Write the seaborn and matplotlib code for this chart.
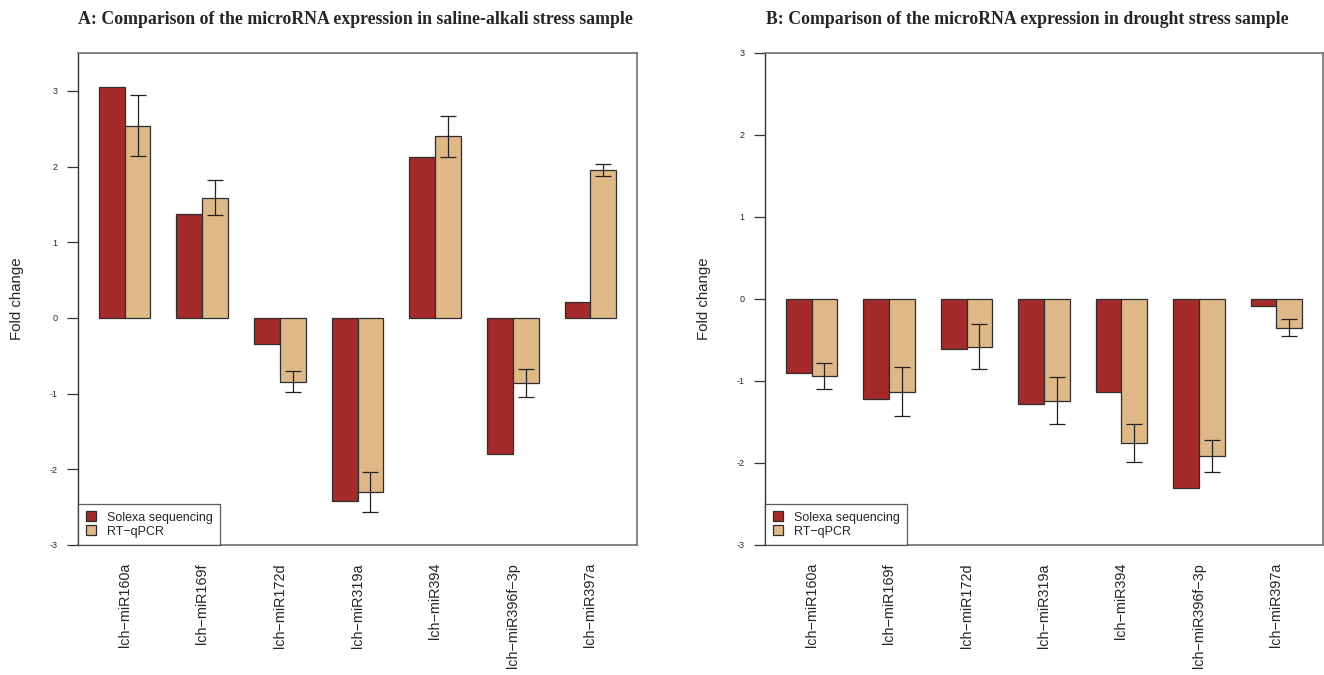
import matplotlib
matplotlib.use("Agg")
import matplotlib.pyplot as plt
import seaborn as sns
import pandas as pd
import numpy as np
from matplotlib.patches import Patch

mirnas = ["lch\u2212miR160a", "lch\u2212miR169f", "lch\u2212miR172d", "lch\u2212miR319a",
          "lch\u2212miR394", "lch\u2212miR396f\u22123p", "lch\u2212miR397a"]
methods = ["Solexa sequencing", "RT\u2212qPCR"]

salt_solexa = [3.05, 1.37, -0.35, -2.42, 2.12, -1.80, 0.21]
salt_qpcr = [2.54, 1.59, -0.84, -2.30, 2.40, -0.86, 1.95]
salt_err = [0.40, 0.23, 0.145, 0.265, 0.27, 0.185, 0.08]

drought_solexa = [-0.90, -1.22, -0.61, -1.28, -1.14, -2.31, -0.08]
drought_qpcr = [-0.94, -1.13, -0.58, -1.24, -1.76, -1.92, -0.35]
drought_err = [0.16, 0.30, 0.275, 0.285, 0.23, 0.195, 0.105]

titles = ["A: Comparison of the microRNA expression in saline-alkali stress sample",
          "B: Comparison of the microRNA expression in drought stress sample"]
yticks = [-3, -2, -1, 0, 1, 2, 3]

colors = ["#A52A2A", "#DEB887"]

sns.set_style("white")
plt.rcParams['font.family'] = ['Liberation Sans', 'DejaVu Sans']

fig = plt.figure(figsize=(13.24, 6.75), dpi=100)
W, H = 1324, 675
axA = fig.add_axes([78 / W, 130 / H, (637 - 78) / W, (545 - 53) / H])
axB = fig.add_axes([765 / W, 130 / H, (1323 - 765) / W, (545 - 53) / H])


def draw(ax, solexa, qpcr, err, title, ylim, title_x):
    df = pd.DataFrame({
        "miRNA": mirnas * 2,
        "method": [methods[0]] * len(mirnas) + [methods[1]] * len(mirnas),
        "value": list(solexa) + list(qpcr),
    })
    sns.barplot(data=df, x="miRNA", y="value", hue="method", order=mirnas,
                hue_order=methods, palette=colors, width=2 / 3, gap=0,
                edgecolor="#2e2e2e", linewidth=0.9, errorbar=None,
                legend=False, ax=ax, saturation=1)
    rt_bars = ax.containers[1]
    xs = [b.get_x() + b.get_width() / 2 for b in rt_bars]
    ax.errorbar(xs, qpcr, yerr=err, fmt="none", ecolor="#222222",
                elinewidth=0.9, capsize=6, capthick=0.9, zorder=5)
    ax.set_xlim(-1 / 3 - 0.2667, 6 + 1 / 3 + 0.2667)
    ax.set_ylim(*ylim)
    ax.set_yticks(yticks)
    ax.set_yticklabels([str(t) for t in yticks])
    ax.tick_params(axis="y", direction="out", length=8, width=0.9,
                   color="#333333", labelsize=6.5, pad=7, left=True)
    ax.tick_params(axis="x", length=0, labelsize=10.4, pad=13, rotation=90)
    ax.set_xlabel("")
    ax.set_ylabel("Fold change", fontsize=10.8)
    for s in ["top", "right", "bottom"]:
        ax.spines[s].set_color("#707070")
        ax.spines[s].set_linewidth(1.2)
    ax.spines["left"].set_color("#333333")
    ax.spines["left"].set_linewidth(1.0)
    ax.set_title(title, fontfamily="Liberation Serif", fontweight="bold",
                 fontsize=12.8, pad=21, x=title_x)
    handles = [Patch(facecolor=c, edgecolor="#2e2e2e", linewidth=0.9) for c in colors]
    leg = ax.legend(handles, methods, loc="lower left", frameon=True,
                    fancybox=False, borderaxespad=0, fontsize=9,
                    handlelength=0.8, handleheight=0.8, handletextpad=0.9,
                    labelspacing=0.15, borderpad=0.6)
    leg.get_frame().set_edgecolor("#333333")
    leg.get_frame().set_linewidth(0.9)


draw(axA, salt_solexa, salt_qpcr, salt_err, titles[0], (-3, 3.5), 0.497)
draw(axB, drought_solexa, drought_qpcr, drought_err, titles[1], (-3, 3), 0.47)
axA.yaxis.set_label_coords(-(78 - 24) / 559, 0.5)
axB.yaxis.set_label_coords(-(765 - 711) / 558, 0.5)

fig.savefig("out.png", dpi=100)
